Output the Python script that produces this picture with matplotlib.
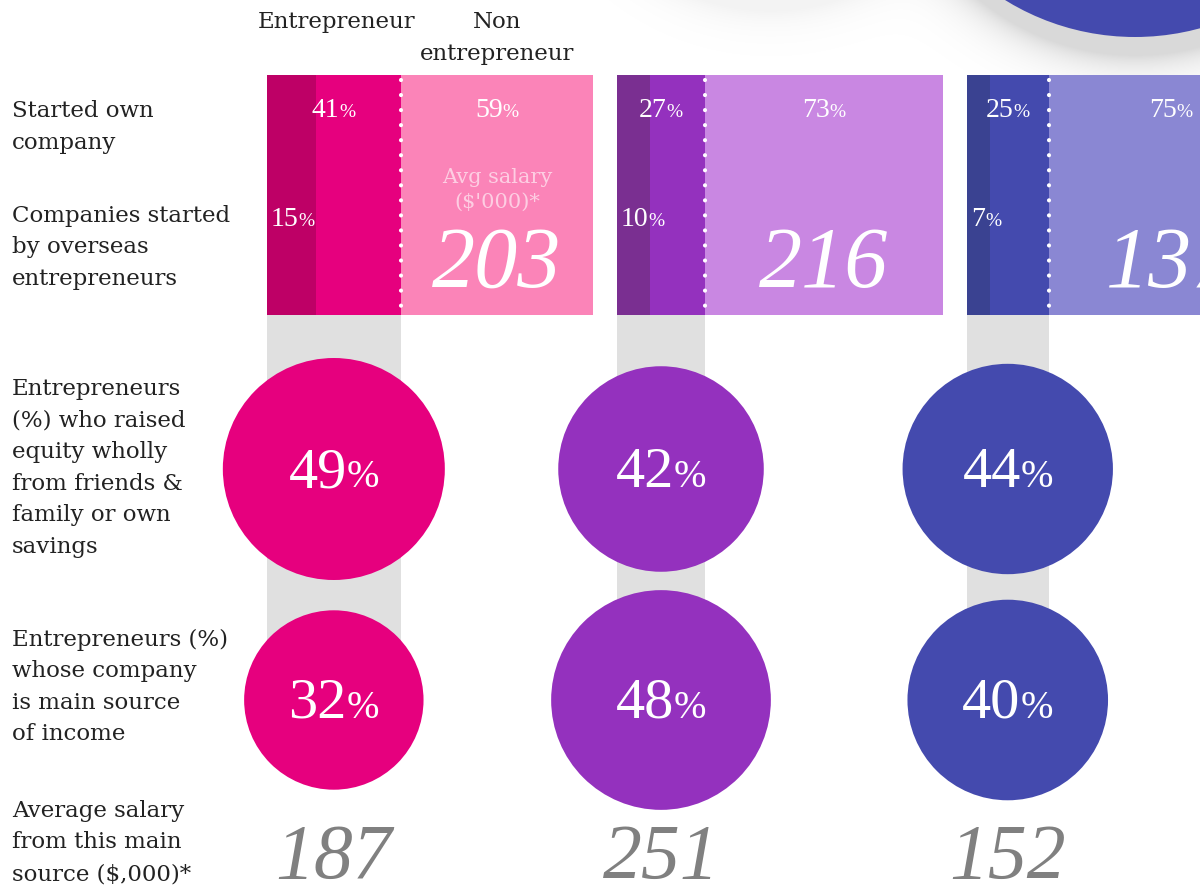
import matplotlib
matplotlib.use("Agg")
import matplotlib.pyplot as plt
from matplotlib.patches import Rectangle, Circle
import numpy as np

# data
row_labels = [["Started own", "company"],
              ["Companies started", "by overseas", "entrepreneurs"],
              ["Entrepreneurs", "(%) who raised", "equity wholly", "from friends &",
               "family or own", "savings"],
              ["Entrepreneurs (%)", "whose company", "is main source", "of income"],
              ["Average salary", "from this main", "source ($,000)*"]]
entrepreneur = [41, 27, 25]          # % started own company
non_entrepreneur = [59, 73, 75]
overseas = [15, 10, 7]               # % companies started by overseas entrepreneurs
avg_salary_non = [203, 216, 137]     # $'000
raised_equity = [49, 42, 44]         # %
main_income = [32, 48, 40]           # %
salary_main = [187, 251, 152]        # $'000

dark_cols = ["#BE0066", "#7A2F91", "#3A4291"]
mid_cols = ["#E6007E", "#9431BE", "#444AAE"]
light_cols = ["#FB84B8", "#C987E2", "#8A87D3"]

LABEL_FONT = "DejaVu Serif"
NUM_FONT = "Liberation Serif"
plt.rcParams['font.family'] = [NUM_FONT, 'DejaVu Serif']

fig = plt.figure(figsize=(12, 8.85), dpi=100)
ax = fig.add_axes([0, 0, 1, 1])

# soft shadows behind the circles at the top edge
yy, xx = np.mgrid[0:120, 500:1200]
d1 = np.hypot(xx - 1135, yy + 192) - 247
d2 = np.hypot(xx - 770, yy + 205) - 215
shade = 0.15 * np.exp(-np.clip(d1, 0, None) / 18) + 0.05 * np.exp(-np.clip(d2, 0, None) / 18)
rgba = np.zeros(yy.shape + (4,))
rgba[..., 3] = np.clip(shade, 0, 1)
ax.imshow(rgba, extent=(500, 1200, 120, 0), zorder=1, interpolation='bilinear')
ax.set_xlim(0, 1200)
ax.set_ylim(885, 0)
ax.axis('off')
ax.add_patch(Circle((1135, -210), 247, color="#444AAE", lw=0, zorder=2))

# column headers
hdr = dict(fontsize=16.5, color='#222222', family=LABEL_FONT, ha='center', va='baseline')
ax.text(337, 28, "Entrepreneur", **hdr)
ax.text(497, 28, "Non", **hdr)
ax.text(497, 60, "entrepreneur", **hdr)

# row labels
label_base = [117, 222, 395, 646, 817]
for lines, y0 in zip(row_labels, label_base):
    for j, s in enumerate(lines):
        ax.text(12, y0 + j * 31.5, s, ha='left', va='baseline', fontsize=16.5,
                color='#222222', family=LABEL_FONT)

bar_left = [267, 617, 967]
scale = 3.26          # px per %
top, bottom = 75, 315
row1_y, row2_y = 469, 700
r_scale = 111 / np.sqrt(49)

fig.canvas.draw()
renderer = fig.canvas.get_renderer()


def pct(x, y, num, size, small, ha='center', color='white', zorder=6):
    # number followed by a smaller % sign on the same baseline
    t = ax.text(0, 0, str(num), fontsize=size)
    p = ax.text(0, 0, "%", fontsize=small)
    wn = t.get_window_extent(renderer).width
    wp = p.get_window_extent(renderer).width
    t.remove()
    p.remove()
    x0 = x - (wn + wp) / 2 if ha == 'center' else x
    ax.text(x0, y, str(num), fontsize=size, color=color, ha='left', va='baseline', zorder=zorder)
    ax.text(x0 + wn, y, "%", fontsize=small, color=color, ha='left', va='baseline', zorder=zorder)


for i in range(3):
    x0 = bar_left[i]
    we = entrepreneur[i] * scale
    wn = non_entrepreneur[i] * scale
    wo = overseas[i] * scale
    cx = x0 + we / 2
    # gray stripe behind circles
    ax.add_patch(Rectangle((x0, bottom), we, row2_y - bottom, color="#E0E0E0", lw=0, zorder=2))
    # bars
    ax.add_patch(Rectangle((x0, top), we, bottom - top, color=mid_cols[i], lw=0, zorder=3))
    ax.add_patch(Rectangle((x0, top), wo, bottom - top, color=dark_cols[i], lw=0, zorder=4))
    ax.add_patch(Rectangle((x0 + we, top), wn, bottom - top, color=light_cols[i], lw=0, zorder=3))
    ax.plot([x0 + we, x0 + we], [top + 5, bottom], color='white', lw=3,
            linestyle=(0, (0.01, 3.6)), dash_capstyle='round', zorder=5)
    # bar labels
    pct(x0 + we / 2, 117, entrepreneur[i], 20, 14)
    pct(x0 + we + wn / 2, 117, non_entrepreneur[i], 20, 14)
    pct(x0 + 4, 226, overseas[i], 20, 14, ha='left')
    ax.text(x0 + we + wn / 2, 287, str(avg_salary_non[i]), fontsize=62, style='italic',
            color='white', ha='center', va='baseline', zorder=6)
    if i == 0:
        ax.text(x0 + we + wn / 2, 183, "Avg salary", fontsize=15, color='white',
                alpha=0.6, ha='center', va='baseline', family=LABEL_FONT, zorder=6)
        ax.text(x0 + we + wn / 2, 208, "($'000)*", fontsize=15, color='white',
                alpha=0.6, ha='center', va='baseline', family=LABEL_FONT, zorder=6)
    # circles
    ax.add_patch(Circle((cx, row1_y), r_scale * np.sqrt(raised_equity[i]),
                        color=mid_cols[i], lw=0, zorder=4))
    pct(cx, row1_y + 18, raised_equity[i], 42, 28)
    ax.add_patch(Circle((cx, row2_y), r_scale * np.sqrt(main_income[i]),
                        color=mid_cols[i], lw=0, zorder=4))
    pct(cx, row2_y + 18, main_income[i], 42, 28)
    # bottom salary
    ax.text(cx, 878, str(salary_main[i]), fontsize=56, style='italic', color='#808080',
            ha='center', va='baseline', zorder=6)

fig.savefig("out.png", dpi=100, facecolor='white')
